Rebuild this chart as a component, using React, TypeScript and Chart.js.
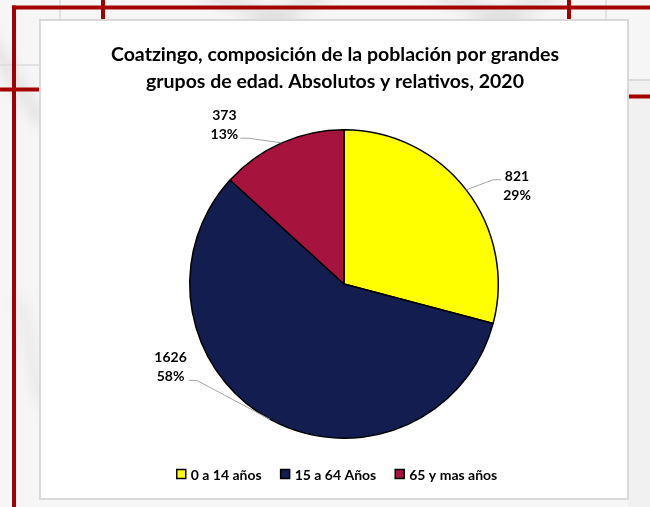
import React, { useEffect, useRef } from "react";
import { Chart, registerables } from "chart.js";

Chart.register(...registerables);

// ---------- data ----------
const categories = ["0 a 14 años", "15 a 64 Años", "65 y mas años"];
const values = [821, 1626, 373];
const colors = ["#FFFF00", "#131D50", "#A6133D"];
const titleLines = [
  "Coatzingo, composición de la población por grandes",
  "grupos de edad. Absolutos y relativos, 2020",
];

// ---------- label placement style (angle shift in degrees, distance factor of radius) ----------
const labelAngleShift = [8, 36, -13];
const labelDistance = [1.29, 1.245, 1.294];

const FONT = "Lato, 'Open Sans', sans-serif";
const W = 650;
const H = 507;
const BOX = { l: 40, t: 20, r: 628, b: 499 };

const backgroundPlugin = {
  id: "slideBackground",
  beforeDraw(chart: any) {
    const ctx = chart.ctx as CanvasRenderingContext2D;
    ctx.save();
    ctx.fillStyle = "#f7f6f6";
    ctx.fillRect(0, 0, W, H);
    // faint watermark streaks
    ctx.filter = "blur(7px)";
    ctx.strokeStyle = "rgba(205,205,205,0.6)";
    ctx.lineCap = "round";
    const streaks = [
      [200, -10, 330, 40, 10],
      [330, -10, 230, 40, 10],
      [430, -10, 560, 40, 10],
      [560, -10, 450, 40, 10],
      [-10, 40, 40, 120, 10],
      [20, 300, 40, 400, 6],
    ];
    streaks.forEach(([x1, y1, x2, y2, w]) => {
      ctx.lineWidth = w;
      ctx.beginPath();
      ctx.moveTo(x1, y1);
      ctx.lineTo(x2, y2);
      ctx.stroke();
    });
    ctx.filter = "none";
    // right grey panel
    ctx.fillStyle = "#f2f1f1";
    ctx.fillRect(BOX.r, 80, W - BOX.r, H - 80);
    ctx.strokeStyle = "#dcdcdc";
    ctx.lineWidth = 2;
    ctx.beginPath();
    ctx.moveTo(BOX.r, 80);
    ctx.lineTo(W, 80);
    ctx.stroke();
    // thin grey lines
    ctx.lineWidth = 1.5;
    ctx.beginPath();
    ctx.moveTo(60, 0);
    ctx.lineTo(60, 20);
    ctx.moveTo(606, 0);
    ctx.lineTo(606, 20);
    ctx.moveTo(0, 65);
    ctx.lineTo(40, 65);
    ctx.stroke();
    // red frame lines
    ctx.fillStyle = "#A50000";
    ctx.fillRect(12, 5.5, W - 12, 4);
    ctx.fillRect(12, 5.5, 4, H);
    ctx.fillRect(101, 0, 4, 20);
    ctx.fillRect(567, 0, 4, 20);
    ctx.fillRect(0, 87.5, 40, 4);
    ctx.fillRect(BOX.r, 94.5, W - BOX.r, 4);
    // white chart box
    ctx.fillStyle = "#ffffff";
    ctx.fillRect(BOX.l, BOX.t, BOX.r - BOX.l, BOX.b - BOX.t);
    ctx.strokeStyle = "#d9d9d9";
    ctx.lineWidth = 2;
    ctx.strokeRect(BOX.l, BOX.t, BOX.r - BOX.l, BOX.b - BOX.t);
    ctx.restore();
  },
};

const labelsPlugin = {
  id: "pieLabels",
  afterDatasetsDraw(chart: any) {
    const ctx = chart.ctx as CanvasRenderingContext2D;
    const meta = chart.getDatasetMeta(0);
    const data = chart.data.datasets[0].data as number[];
    const total = data.reduce((a, b) => a + b, 0);
    ctx.save();
    meta.data.forEach((arc: any, i: number) => {
      const { x, y, startAngle, endAngle, outerRadius } = arc.getProps(
        ["x", "y", "startAngle", "endAngle", "outerRadius"],
        true
      );
      const mid = (startAngle + endAngle) / 2;
      const ax = x + Math.cos(mid) * outerRadius;
      const ay = y + Math.sin(mid) * outerRadius;
      const la = mid + (labelAngleShift[i] * Math.PI) / 180;
      const dist = outerRadius * labelDistance[i];
      const cx = x + Math.cos(la) * dist;
      const cy = y + Math.sin(la) * dist;
      const l1 = String(data[i]);
      const l2 = Math.round((data[i] / total) * 100) + "%";
      ctx.font = `bold 14px ${FONT}`;
      const tw = Math.max(ctx.measureText(l1).width, ctx.measureText(l2).width);
      const right = Math.cos(la) > 0;
      let ex: number, ey: number, hx: number;
      if (right) {
        ex = cx - tw / 2 - 2;
        ey = cy - 6;
        hx = ex - 8;
      } else {
        ex = cx + tw / 2 + 2;
        ey = cy + 14;
        hx = ex + 8;
      }
      ctx.strokeStyle = "#a6a6a6";
      ctx.lineWidth = 1;
      ctx.beginPath();
      ctx.moveTo(ex, ey);
      ctx.lineTo(hx, ey);
      ctx.lineTo(ax, ay);
      ctx.stroke();
      ctx.fillStyle = "#000000";
      ctx.textAlign = "center";
      ctx.textBaseline = "middle";
      ctx.fillText(l1, cx, cy - 9);
      ctx.fillText(l2, cx, cy + 10);
    });
    ctx.restore();
  },
  afterDraw(chart: any) {
    const ctx = chart.ctx as CanvasRenderingContext2D;
    ctx.save();
    // title
    ctx.fillStyle = "#000000";
    ctx.textAlign = "center";
    ctx.textBaseline = "middle";
    ctx.font = `bold 19.5px ${FONT}`;
    const tcx = (BOX.l + BOX.r) / 2 + 1;
    titleLines.forEach((line, i) => ctx.fillText(line, tcx, 55 + i * 27));
    // legend
    ctx.font = `bold 14px ${FONT}`;
    const boxSize = 9;
    const gapBoxText = 5;
    const gapItems = 19;
    const widths = categories.map((c) => ctx.measureText(c).width);
    const total =
      widths.reduce((a, b) => a + b, 0) +
      categories.length * (boxSize + gapBoxText) +
      (categories.length - 1) * gapItems;
    let lx = 337 - total / 2;
    const ly = 474;
    ctx.textAlign = "left";
    categories.forEach((c, i) => {
      ctx.fillStyle = colors[i];
      ctx.fillRect(lx, ly - boxSize / 2, boxSize, boxSize);
      ctx.strokeStyle = "#000000";
      ctx.lineWidth = 1.5;
      ctx.strokeRect(lx, ly - boxSize / 2, boxSize, boxSize);
      ctx.fillStyle = "#000000";
      ctx.fillText(c, lx + boxSize + gapBoxText, ly + 1);
      lx += boxSize + gapBoxText + widths[i] + gapItems;
    });
    ctx.restore();
  },
};

export default function App() {
  const canvasRef = useRef<HTMLCanvasElement | null>(null);

  useEffect(() => {
    if (!canvasRef.current) return;
    const chart = new Chart(canvasRef.current, {
      type: "pie",
      data: {
        labels: categories,
        datasets: [
          {
            data: values,
            backgroundColor: colors,
            borderColor: "#000000",
            borderWidth: 1.5,
          },
        ],
      },
      options: {
        responsive: false,
        maintainAspectRatio: false,
        animation: false,
        devicePixelRatio: 1,
        layout: { padding: { left: 189, right: 151, top: 128, bottom: 67 } },
        plugins: {
          legend: { display: false },
          title: { display: false },
          tooltip: { enabled: false },
        },
      },
      plugins: [backgroundPlugin, labelsPlugin],
    });
    return () => chart.destroy();
  }, []);

  return (
    <div style={{ position: "fixed", left: 0, top: 0, width: W, height: H }}>
      <canvas ref={canvasRef} width={W} height={H} />
    </div>
  );
}
